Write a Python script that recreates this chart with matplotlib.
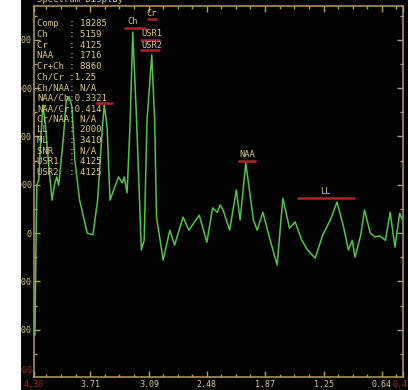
import numpy as np
import matplotlib
matplotlib.use('Agg')
import matplotlib.pyplot as plt
from matplotlib.patches import Rectangle
from matplotlib.ticker import FixedLocator

# spectrum trace (chemical shift in ppm, signal amplitude)
ppm = [4.29, 4.28, 4.27, 4.25, 4.23, 4.205, 4.18, 4.15, 4.11, 4.08, 4.06, 4.04,
       3.99, 3.96, 3.93, 3.90, 3.87, 3.82, 3.74, 3.68, 3.63, 3.58, 3.56, 3.53,
       3.50, 3.45, 3.41, 3.37, 3.35, 3.32, 3.29, 3.26, 3.22, 3.17, 3.14, 3.11,
       3.06, 3.03, 3.01, 2.94, 2.87, 2.82, 2.73, 2.67, 2.56, 2.48, 2.42, 2.37,
       2.34, 2.31, 2.24, 2.17, 2.13, 2.07, 1.99, 1.95, 1.89, 1.82, 1.74, 1.68,
       1.61, 1.55, 1.48, 1.42, 1.34, 1.26, 1.18, 1.11, 1.04, 0.99, 0.95, 0.92,
       0.86, 0.82, 0.76, 0.71, 0.66, 0.60, 0.55, 0.50, 0.45, 0.42]
signal = [-2110, -350, 990, 1100, 1920, 2650, 2240, 1510, 680, 1040, 1160, 990,
          1990, 2750, 2820, 2610, 1510, 680, 0, -40, 680, 2190, 2650, 2190,
          680, 950, 1160, 1040, 1160, 830, 2190, 4160, 2340, -350, -150, 2340,
          3690, 2340, 330, -560, 60, -250, 330, 60, 370, -190, 520, 430,
          580, 480, 60, 890, 270, 1450, 270, 60, 430, -100, -660, 720,
          100, 230, -150, -350, -520, -40, 270, 640, 120, -350, -150, -500,
          -40, 480, 0, -80, -60, -150, 430, -290, 410, 270]

# peak markers: name, text position, integration range, bar level
peak_names = ['Cr', 'Ch', 'USR1', 'USR2', 'NAA', 'LL']
peak_text_ppm = [3.06, 3.26, 3.06, 3.06, 2.06, 1.23]
peak_text_level = [4550, 4370, 4140, 3890, 1635, 850]
peak_lo = [3.11, 3.35, 3.18, 3.18, 2.15, 1.53]
peak_hi = [3.005, 3.12, 2.97, 2.97, 1.96, 0.92]
peak_bar_level = [4430, 4244, 3995, 3788, 1490, 725]
extra_bar = (3.64, 3.48, 2690)

x_ticks = [4.30, 3.71, 3.09, 2.48, 1.87, 1.25, 0.64, 0.42]
y_ticks = [-2000, -1000, 0, 1000, 2000, 3000, 4000]

info_lines = ['Comp  : 18285', 'Ch    : 5159', 'Cr    : 4125', 'NAA   : 1716',
              'Cr+Ch : 8860', 'Ch/Cr :1.25', 'Ch/NAA: N/A', 'NAA/Ch:0.3321',
              'NAA/Cr:0.414', 'Cr/NAA: N/A', 'LL    : 2000', 'ML    : 3410',
              'SNR   : N/A', 'USR1  : 4125', 'USR2  : 4125']

W, H = 408, 390
bg = '#030303'
tan = '#b59a66'
txt = '#dcc684'
red = '#a8262a'
green = '#52c447'
mono = 'DejaVu Sans Mono'

fig = plt.figure(figsize=(W / 100, H / 100), dpi=100, facecolor=bg)
ax = fig.add_axes([34 / W, 13 / H, 369 / W, 371 / H])
ax.set_facecolor(bg)

ax.plot(ppm, signal, color=green, lw=1.1, zorder=3)

for name, tx, ty, lo, hi, lvl in zip(peak_names, peak_text_ppm, peak_text_level,
                                     peak_lo, peak_hi, peak_bar_level):
    ax.plot([lo, hi], [lvl, lvl], color=red, lw=1.8, solid_capstyle='butt', zorder=4)
    ax.text(tx, ty, name, ha='center', va='center', family=mono, fontsize=6.2,
            color=txt, zorder=5)
ax.plot(extra_bar[:2], [extra_bar[2]] * 2, color=red, lw=1.8, zorder=4)

ax.set_xlim(4.30, 0.415)
ax.set_ylim(-2980, 4700)

for s in ax.spines.values():
    s.set_color(tan)
    s.set_linewidth(1.1)

# minor ticks: four steps between the labelled ones
majors = x_ticks[1:-1]
minor_x = [4.169, 4.016, 3.863]
for a, b in zip(majors[:-1], majors[1:]):
    minor_x += list(np.linspace(a, b, 5)[1:-1])
minor_x += [0.487]
ax.xaxis.set_major_locator(FixedLocator(x_ticks))
ax.xaxis.set_minor_locator(FixedLocator(minor_x + majors))
ax.set_xticklabels([f'{v:.2f}' for v in x_ticks])
ax.yaxis.set_major_locator(FixedLocator(y_ticks))
ax.yaxis.set_minor_locator(FixedLocator(np.arange(-2500, 4700, 500)))
ax.set_yticklabels([str(v) for v in y_ticks])

ax.tick_params(which='both', direction='in', top=True, right=True, colors=tan,
               labelcolor=txt, labelsize=6)
ax.tick_params(which='major', length=4, width=1)
ax.tick_params(which='minor', length=2.2, width=1)
ax.tick_params(axis='x', pad=2)
ax.tick_params(axis='y', pad=1.5)
ax.tick_params(axis='y', which='both', right=True, labelright=False)
for lab in ax.get_xticklabels() + ax.get_yticklabels():
    lab.set_family(mono)
xl = ax.get_xticklabels()
xl[0].set_color(red)
xl[-1].set_color(red)

ax.text(-0.004, 0.017, '-3000', transform=ax.transAxes, ha='right', va='center',
        family=mono, fontsize=6, color=red)

# readout block in the upper left
for i, line in enumerate(info_lines):
    py = 24 + i * 10.6
    fig.text(37 / W, 1 - py / H, line, ha='left', va='center', family=mono,
             fontsize=6.5, color=txt, zorder=6)

fig.text(37 / W, 1.0, 'Spectrum Display', ha='left', va='center', family=mono,
         fontsize=6.5, color=txt)

# white margin on the left edge
fig.add_artist(Rectangle((0, 0), 21 / W, 1, transform=fig.transFigure,
                         facecolor='white', edgecolor='none', zorder=10))

fig.savefig('out.png', dpi=100, facecolor=bg)
